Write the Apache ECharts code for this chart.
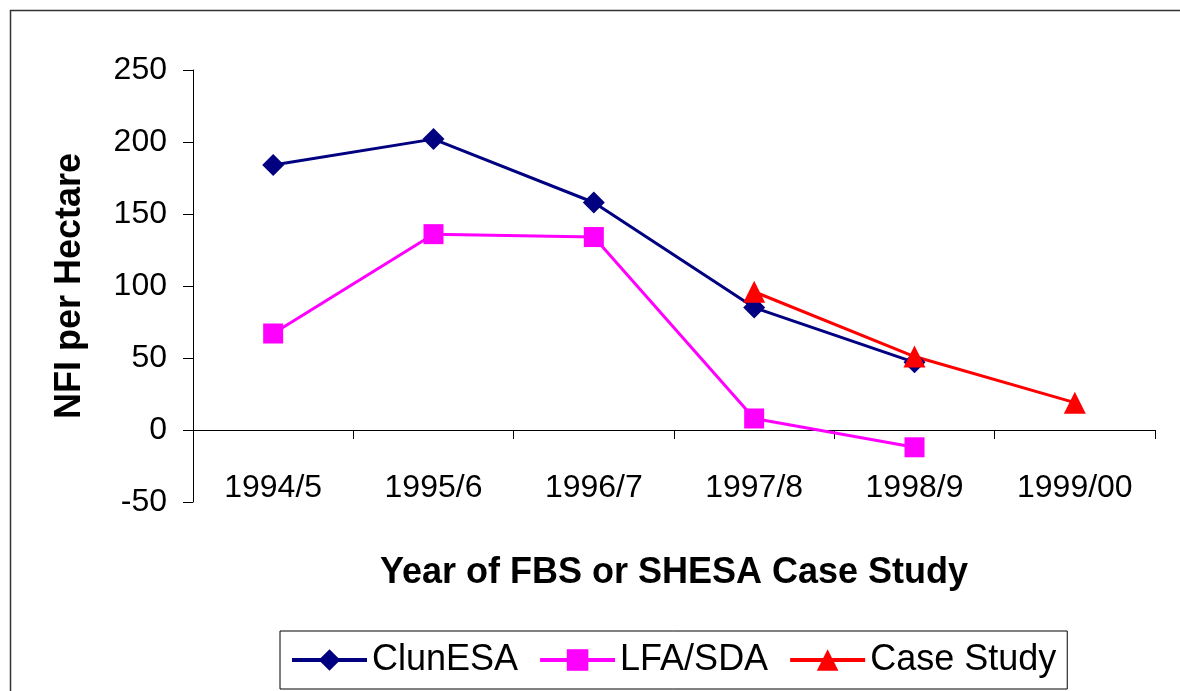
<!DOCTYPE html>
<html>
<head>
<meta charset="utf-8">
<script src="https://cdn.jsdelivr.net/npm/echarts@6/dist/echarts.min.js"></script>
<style>
    html, body { margin: 0; padding: 0; background: #fff; }
    #chart { width: 1180px; height: 691px; }
</style>
</head>
<body>
<div id="chart"></div>
<script>
const YEARS = ["1994/5", "1995/6", "1996/7", "1997/8", "1998/9", "1999/00"];
const CLUN_ESA = [184, 202, 158, 85, 47, null];
const LFA_SDA = [67, 136, 134, 8, -12, null];
const CASE_STUDY = [null, null, null, 96, 51, 19];

const FONT = "'Liberation Sans', Arial, sans-serif";

const chart = echarts.init(document.getElementById("chart"));

function line(name, data, color, symbol, size) {
    return {
        name,
        type: "line",
        data,
        symbol,
        symbolSize: size,
        connectNulls: false,
        itemStyle: { color },
        lineStyle: { color, width: 3 },
    };
}

chart.setOption({
    backgroundColor: "#fff",
    animation: false,
    textStyle: { fontFamily: FONT, color: "#000" },
    // outer frame: only left and top edges are visible in the picture
    graphic: [
        {
            type: "rect",
            shape: { x: 10.5, y: 10.5, width: 1200, height: 700 },
            style: { fill: "none", stroke: "#333", lineWidth: 1.5 },
            silent: true,
        },
    ],
    grid: { left: 193, right: 25, top: 70, bottom: 189 },
    legend: {
        left: 280,
        top: 631,
        padding: [11, 11, 11, 10],
        itemWidth: 75,
        itemHeight: 27,
        itemGap: 20,
        borderColor: "#000",
        borderWidth: 1,
        lineStyle: { width: 4 },
        textStyle: { fontSize: 36, fontFamily: FONT, color: "#000" },
        data: ["ClunESA", "LFA/SDA", "Case Study"],
    },
    xAxis: {
        type: "category",
        data: YEARS,
        boundaryGap: true,
        name: "Year of FBS or SHESA Case Study",
        nameLocation: "middle",
        nameGap: 53,
        nameTextStyle: { fontSize: 36, fontWeight: "bold", fontFamily: FONT, color: "#000" },
        axisLine: { onZero: true, lineStyle: { color: "#000", width: 1 } },
        axisTick: { show: true, alignWithLabel: false, length: 9, lineStyle: { color: "#000" } },
        axisLabel: { fontSize: 32, margin: -30, color: "#000", fontFamily: FONT },
        splitLine: { show: false },
    },
    yAxis: {
        type: "value",
        min: -50,
        max: 250,
        interval: 50,
        name: "NFI per Hectare",
        nameLocation: "middle",
        nameGap: 105,
        nameTextStyle: { fontSize: 36, fontWeight: "bold", fontFamily: FONT, color: "#000" },
        axisLine: { show: true, lineStyle: { color: "#000", width: 1 } },
        axisTick: { show: true, length: 10, lineStyle: { color: "#000" } },
        axisLabel: { fontSize: 32, margin: 26, color: "#000", fontFamily: FONT },
        splitLine: { show: false },
    },
    series: [
        line("ClunESA", CLUN_ESA, "#000080", "diamond", 22),
        line("LFA/SDA", LFA_SDA, "#FF00FF", "rect", 20),
        line("Case Study", CASE_STUDY, "#FF0000", "triangle", 22),
    ],
});

window.addEventListener("resize", () => chart.resize());
</script>
</body>
</html>
